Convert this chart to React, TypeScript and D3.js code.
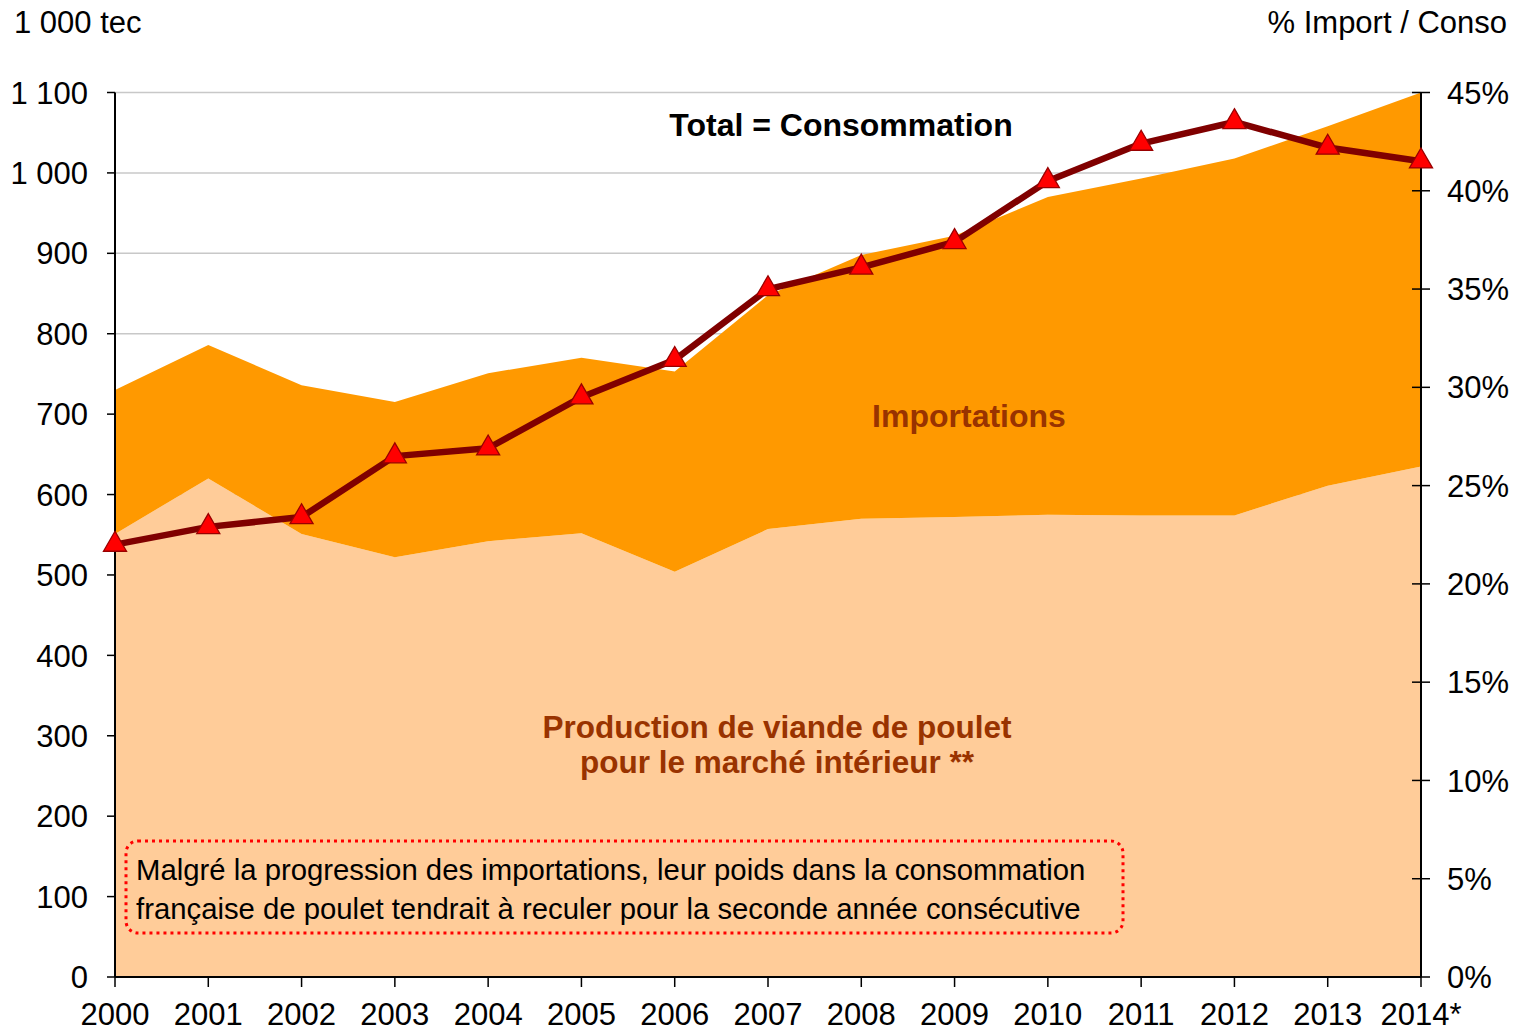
import React from "react";
import * as d3 from "d3";

// valeurs (1 000 tec et %)
const years = ["2000", "2001", "2002", "2003", "2004", "2005", "2006", "2007", "2008", "2009", "2010", "2011", "2012", "2013", "2014*"];
const production = [551, 620, 551, 522, 542, 552, 504, 557, 570, 572, 575, 574, 574, 611, 635];
const importations = [179, 166, 185, 193, 209, 218, 249, 291, 328, 350, 395, 419, 444, 447, 465];
const importShare = [22.0, 22.9, 23.4, 26.5, 26.9, 29.5, 31.4, 35.0, 36.1, 37.4, 40.5, 42.4, 43.5, 42.2, 41.5];
const leftTicks = [0, 100, 200, 300, 400, 500, 600, 700, 800, 900, 1000, 1100];
const rightTicks = [0, 5, 10, 15, 20, 25, 30, 35, 40, 45];

const FONT = "'Liberation Sans', Arial, sans-serif";

const App = () => {
  const width = 1519;
  const height = 1032;
  const margin = { left: 115, right: 98, top: 92.5, bottom: 55 };

  const x = d3.scalePoint<string>()
    .domain(years)
    .range([margin.left, width - margin.right]);

  const y = d3.scaleLinear()
    .domain([0, 1100])
    .range([height - margin.bottom, margin.top]);

  const y2 = d3.scaleLinear()
    .domain([0, 45])
    .range([height - margin.bottom, margin.top]);

  const rows = years.map((yr, i) => ({ year: yr, production: production[i], importations: importations[i] }));
  const stacked = d3.stack<any>().keys(["production", "importations"])(rows);
  const colors: Record<string, string> = { production: "#FFCC99", importations: "#FF9900" };

  const area = d3.area<any>()
    .x((d) => x(d.data.year) as number)
    .y0((d) => y(d[0]))
    .y1((d) => y(d[1]));

  const line = d3.line<number>()
    .x((_, i) => x(years[i]) as number)
    .y((d) => y2(d));

  const tri = d3.symbol().type(d3.symbolTriangle).size(230);

  const x0 = margin.left;
  const x1 = width - margin.right;
  const yb = y(0);

  return (
    <div style={{ position: "fixed", left: 0, top: 0 }}>
      <svg width={width} height={height} style={{ display: "block", background: "#fff" }} fontFamily={FONT}>
        {/* grille */}
        {leftTicks.map((t) => (
          <line key={"g" + t} x1={x0} x2={x1} y1={y(t)} y2={y(t)} stroke="#C8C8C8" strokeWidth={1.5} />
        ))}

        {/* aires empilées */}
        {stacked.map((s) => (
          <path key={s.key} d={area(s) as string} fill={colors[s.key]} />
        ))}

        {/* axe gauche */}
        <line x1={x0} x2={x0} y1={y(1100)} y2={yb} stroke="#000" strokeWidth={2} />
        {leftTicks.map((t) => (
          <g key={"l" + t}>
            <line x1={x0 - 8} x2={x0} y1={y(t)} y2={y(t)} stroke="#000" strokeWidth={1.5} />
            <text x={88} y={y(t)} dy="0.36em" textAnchor="end" fontSize={31}>
              {d3.format(",")(t).replace(",", " ")}
            </text>
          </g>
        ))}

        {/* axe droit */}
        <line x1={x1} x2={x1} y1={y2(45)} y2={yb} stroke="#000" strokeWidth={2} />
        {rightTicks.map((t) => (
          <g key={"r" + t}>
            <line x1={x1 - 9} x2={x1 + 9} y1={y2(t)} y2={y2(t)} stroke="#000" strokeWidth={1.5} />
            <text x={1447} y={y2(t)} dy="0.36em" fontSize={31}>{t + "%"}</text>
          </g>
        ))}

        {/* axe des x */}
        <line x1={x0} x2={x1} y1={yb} y2={yb} stroke="#000" strokeWidth={2} />
        {years.map((yr) => (
          <g key={"x" + yr}>
            <line x1={x(yr)} x2={x(yr)} y1={yb} y2={yb + 10} stroke="#000" strokeWidth={1.5} />
            <text x={x(yr)} y={1025} textAnchor="middle" fontSize={31}>{yr}</text>
          </g>
        ))}

        {/* part des importations */}
        <path d={line(importShare) as string} fill="none" stroke="#800000" strokeWidth={6.5} strokeLinejoin="round" />
        {importShare.map((v, i) => (
          <path
            key={"m" + i}
            d={tri() as string}
            transform={`translate(${x(years[i])},${y2(v)})`}
            fill="#FF0000"
            stroke="#990000"
            strokeWidth={1.3}
          />
        ))}

        {/* titres d'axes */}
        <text x={14} y={33} fontSize={31}>1 000 tec</text>
        <text x={1507} y={33} textAnchor="end" fontSize={31}>% Import / Conso</text>

        {/* étiquettes */}
        <text x={841} y={136} textAnchor="middle" fontSize={32} fontWeight="bold">Total = Consommation</text>
        <text x={969} y={427} textAnchor="middle" fontSize={32} fontWeight="bold" fill="#993300">Importations</text>
        <text x={777} y={738} textAnchor="middle" fontSize={31.5} fontWeight="bold" fill="#993300">Production de viande de poulet</text>
        <text x={777} y={773} textAnchor="middle" fontSize={31.5} fontWeight="bold" fill="#993300">pour le marché intérieur **</text>

        {/* encadré */}
        <rect x={126} y={841} width={997} height={92} rx={12} fill="none" stroke="#FF0000" strokeWidth={3} strokeDasharray="3 4" />
        <text x={136} y={880} fontSize={29.3}>Malgré la progression des importations, leur poids dans la consommation</text>
        <text x={136} y={919} fontSize={29.3}>française de poulet tendrait à reculer pour la seconde année consécutive</text>
      </svg>
    </div>
  );
};

export default App;
